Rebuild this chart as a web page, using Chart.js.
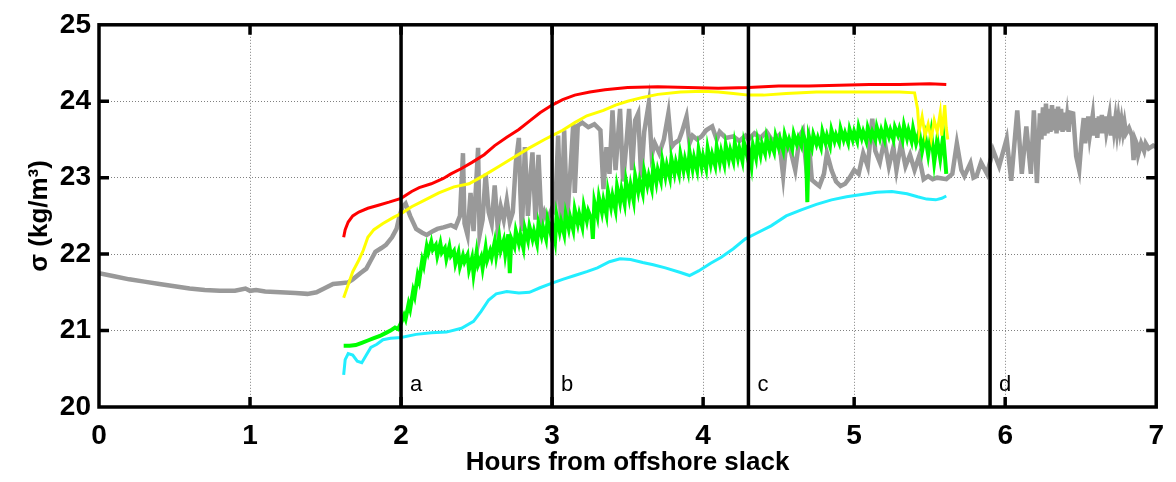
<!DOCTYPE html>
<html>
<head>
<meta charset="utf-8">
<script src="https://cdn.jsdelivr.net/npm/chart.js@4.4.0/dist/chart.umd.min.js"></script>
<style>
  html, body { margin: 0; padding: 0; background: #fff; }
</style>
</head>
<body>
<canvas id="grafica" width="1176" height="482"></canvas>
<script>
// ejes
const xTicks = [0, 1, 2, 3, 4, 5, 6, 7];
const yTicks = [20, 21, 22, 23, 24, 25];
const xTitle = 'Hours from offshore slack';
const yTitle = 'σ (kg/m³)';

// lineas verticales (horas) y sus letras
const markerHours = [2, 3, 4.3, 5.9];
const markerLabels = ['a', 'b', 'c', 'd'];

// series [hora, sigma]
const graySeries = [
  [0.00,21.75],[0.10,21.71],[0.20,21.67],[0.30,21.64],[0.40,21.61],[0.50,21.58],[0.60,21.55],[0.70,21.53],
  [0.80,21.52],[0.90,21.52],[0.97,21.55],[1.00,21.52],[1.04,21.53],[1.10,21.51],[1.20,21.50],[1.30,21.49],
  [1.38,21.48],[1.44,21.50],[1.50,21.56],[1.55,21.61],[1.60,21.62],[1.65,21.63],[1.68,21.67],[1.73,21.75],
  [1.77,21.81],[1.80,21.92],[1.83,22.03],[1.87,22.08],[1.90,22.12],[1.94,22.22],[1.97,22.33],[1.99,22.50],
  [2.01,22.62],[2.03,22.66],[2.06,22.50],[2.10,22.33],[2.14,22.28],[2.17,22.25],[2.21,22.30],[2.24,22.33],
  [2.28,22.35],[2.33,22.38],[2.36,22.35],[2.39,22.50],[2.41,23.32],[2.42,22.40],[2.44,22.25],[2.46,22.80],
  [2.48,22.30],[2.51,23.39],[2.52,22.25],[2.54,22.45],[2.56,23.05],[2.58,22.55],[2.60,22.40],[2.62,22.90],
  [2.64,22.35],[2.66,22.62],[2.68,22.45],[2.70,22.70],[2.72,22.42],[2.74,22.55],[2.76,23.20],[2.78,23.52],
  [2.79,22.80],[2.80,22.30],[2.82,23.40],[2.84,22.50],[2.86,23.10],[2.87,23.33],[2.89,22.45],[2.91,23.30],
  [2.93,22.40],[2.95,22.55],[2.97,22.45],[3.00,22.60],[3.02,22.55],[3.04,23.55],[3.06,22.30],[3.08,23.62],
  [3.10,22.45],[3.12,23.05],[3.14,23.70],[3.15,22.80],[3.17,23.68],[3.20,23.72],[3.24,23.66],[3.28,23.70],
  [3.32,23.62],[3.34,22.85],[3.36,23.40],[3.38,23.05],[3.40,23.88],[3.42,23.10],[3.45,23.90],[3.47,22.95],
  [3.49,23.40],[3.51,23.90],[3.53,23.10],[3.55,23.75],[3.57,23.84],[3.59,23.00],[3.61,23.60],[3.64,23.97],
  [3.66,23.30],[3.68,23.45],[3.71,23.32],[3.74,23.50],[3.77,23.84],[3.79,23.40],[3.81,23.45],[3.84,23.49],
  [3.86,23.60],[3.89,23.80],[3.91,23.45],[3.93,23.55],[3.96,23.50],[3.99,23.54],[4.02,23.62],[4.06,23.67],
  [4.09,23.50],[4.11,23.60],[4.15,23.52],[4.20,23.54],[4.24,23.48],[4.28,23.55],[4.30,23.50],[4.34,23.58],
  [4.38,23.52],[4.42,23.60],[4.46,23.48],[4.50,23.55],[4.53,23.02],[4.55,23.45],[4.58,23.35],[4.61,23.10],
  [4.64,23.55],[4.66,23.62],[4.68,23.20],[4.70,23.45],[4.72,22.97],[4.75,22.92],[4.77,22.89],[4.80,23.05],
  [4.82,23.32],[4.85,23.10],[4.88,22.95],[4.91,22.89],[4.94,22.92],[4.97,23.00],[5.00,23.10],[5.03,23.05],
  [5.06,23.32],[5.09,23.15],[5.12,23.77],[5.14,23.35],[5.17,23.20],[5.20,23.49],[5.23,23.15],[5.26,23.40],
  [5.28,23.10],[5.31,23.45],[5.34,23.15],[5.37,23.30],[5.40,23.10],[5.43,23.28],[5.46,22.98],[5.49,23.02],
  [5.52,22.98],[5.55,23.00],[5.61,22.98],[5.65,23.05],[5.68,23.45],[5.71,23.10],[5.73,23.02],[5.77,23.19],
  [5.79,23.00],[5.81,23.02],[5.84,23.20],[5.88,23.05],[5.92,23.36],[5.96,23.15],[6.01,23.51],[6.04,22.96],
  [6.08,23.88],[6.11,23.05],[6.14,23.67],[6.17,23.05],[6.19,23.88],[6.21,22.93],[6.23,23.84],[6.24,23.50],
  [6.25,23.92],[6.26,23.55],[6.27,23.97],[6.28,23.58],[6.29,23.90],[6.30,23.60],[6.31,23.95],[6.32,23.62],
  [6.33,23.90],[6.34,23.58],[6.35,23.93],[6.36,23.62],[6.37,23.90],[6.38,23.60],[6.39,23.85],[6.40,23.62],
  [6.41,23.80],[6.42,23.60],[6.43,23.85],[6.45,23.84],[6.47,23.28],[6.49,23.10],[6.51,23.60],[6.52,23.78],
  [6.53,23.45],[6.55,23.80],[6.56,23.55],[6.58,23.82],[6.59,23.55],[6.60,23.78],[6.61,23.52],[6.62,23.80],
  [6.63,23.58],[6.64,23.82],[6.65,23.58],[6.66,23.80],[6.67,23.60],[6.69,23.82],[6.70,23.55],[6.71,23.80],
  [6.72,23.62],[6.73,23.78],[6.74,23.60],[6.75,23.78],[6.76,23.62],[6.77,23.75],[6.78,23.60],[6.79,23.72],
  [6.80,23.58],[6.82,23.65],[6.84,23.55],[6.85,23.23],[6.86,23.50],[6.87,23.45],[6.88,23.30],[6.90,23.45],
  [6.92,23.35],[6.93,23.45],[6.95,23.38],[6.98,23.42],[7.00,23.40]
];

const greenSeries = [
  [1.62,20.80],[1.66,20.80],[1.70,20.81],[1.74,20.84],[1.78,20.87],[1.82,20.90],[1.86,20.93],[1.90,20.97],
  [1.93,21.00],[1.96,21.04],[1.98,21.02],[2.00,21.10],[2.02,21.20],[2.03,21.15],[2.05,21.35],[2.06,21.28],
  [2.08,21.52],[2.09,21.45],[2.11,21.72],[2.12,21.65],[2.14,21.92],[2.15,21.85],[2.17,22.10],[2.18,22.02],
  [2.20,22.16],[2.21,22.06],[2.23,22.12],[2.24,21.98],[2.26,22.14],[2.27,22.02],[2.29,22.08],[2.30,21.94],
  [2.32,22.10],[2.33,21.98],[2.35,22.04],[2.36,21.88],[2.38,22.02],[2.39,21.84],[2.41,21.98],[2.42,21.90],
  [2.44,21.99],[2.45,21.80],[2.47,21.95],[2.48,21.74],[2.50,22.02],[2.51,21.86],[2.53,21.96],[2.54,21.82],
  [2.56,22.08],[2.57,21.92],[2.59,22.04],[2.60,21.96],[2.62,22.16],[2.63,21.98],[2.65,22.22],[2.66,22.05],
  [2.68,22.18],[2.69,22.00],[2.71,22.26],[2.72,21.75],[2.73,22.20],[2.75,22.10],[2.76,22.30],[2.78,22.14],
  [2.79,22.25],[2.81,22.08],[2.82,22.33],[2.84,22.18],[2.85,22.36],[2.87,22.20],[2.88,22.30],[2.90,22.14],
  [2.91,22.40],[2.93,22.24],[2.94,22.35],[2.96,22.20],[2.97,22.45],[2.99,22.28],[3.00,22.40],[3.02,22.18],
  [3.03,22.50],[3.05,22.30],[3.06,22.42],[3.08,22.26],[3.09,22.52],[3.11,22.34],[3.12,22.48],[3.14,22.32],
  [3.15,22.58],[3.17,22.40],[3.18,22.52],[3.20,22.36],[3.21,22.62],[3.23,22.44],[3.24,22.56],[3.26,22.46],
  [3.27,22.20],[3.28,22.68],[3.30,22.50],[3.31,22.74],[3.33,22.55],[3.34,22.70],[3.36,22.52],[3.37,22.82],
  [3.39,22.62],[3.40,22.76],[3.42,22.58],[3.43,22.88],[3.45,22.68],[3.46,22.84],[3.48,22.66],[3.49,22.95],
  [3.51,22.74],[3.52,22.90],[3.54,22.70],[3.55,23.02],[3.57,22.82],[3.58,22.96],[3.60,22.80],[3.61,23.08],
  [3.63,22.90],[3.64,23.02],[3.66,22.86],[3.67,23.15],[3.69,22.94],[3.70,23.10],[3.72,22.96],[3.73,23.22],
  [3.75,23.02],[3.76,23.16],[3.78,23.00],[3.79,23.25],[3.81,23.06],[3.82,23.20],[3.84,23.05],[3.85,23.30],
  [3.87,23.10],[3.88,23.24],[3.90,23.08],[3.91,23.34],[3.93,23.12],[3.94,23.26],[3.96,23.10],[3.97,23.36],
  [3.99,23.15],[4.00,23.28],[4.02,23.12],[4.03,23.38],[4.05,23.18],[4.06,23.30],[4.08,23.16],[4.09,23.40],
  [4.11,23.20],[4.12,23.34],[4.14,23.18],[4.15,23.42],[4.17,23.24],[4.18,23.36],[4.20,23.22],[4.21,23.45],
  [4.23,23.26],[4.24,23.38],[4.26,23.22],[4.27,23.46],[4.29,23.30],[4.30,23.40],[4.32,23.16],[4.33,23.42],
  [4.35,23.26],[4.36,23.48],[4.38,23.30],[4.39,23.44],[4.41,23.32],[4.42,23.52],[4.44,23.36],[4.45,23.46],
  [4.47,23.34],[4.48,23.54],[4.50,23.40],[4.51,23.50],[4.53,23.36],[4.54,23.56],[4.56,23.42],[4.57,23.50],
  [4.59,23.38],[4.60,23.57],[4.62,23.44],[4.63,23.52],[4.65,23.42],[4.66,23.58],[4.68,23.46],[4.69,22.68],
  [4.70,23.54],[4.72,23.40],[4.73,23.56],[4.75,23.44],[4.76,23.52],[4.78,23.40],[4.79,23.60],[4.81,23.46],
  [4.82,23.55],[4.84,23.42],[4.85,23.62],[4.87,23.48],[4.88,23.56],[4.90,23.46],[4.91,23.64],[4.93,23.50],
  [4.94,23.58],[4.96,23.46],[4.97,23.63],[4.99,23.50],[5.00,23.60],[5.02,23.48],[5.03,23.66],[5.05,23.52],
  [5.06,23.60],[5.08,23.48],[5.09,23.65],[5.11,23.52],[5.12,23.60],[5.14,23.50],[5.15,23.66],[5.17,23.52],
  [5.18,23.62],[5.20,23.50],[5.21,23.67],[5.23,23.54],[5.24,23.62],[5.26,23.50],[5.27,23.66],[5.29,23.56],
  [5.30,23.64],[5.32,23.50],[5.33,23.68],[5.35,23.52],[5.36,23.62],[5.38,23.48],[5.39,23.64],[5.41,23.45],
  [5.43,23.60],[5.45,23.35],[5.47,23.55],[5.49,23.30],[5.51,23.58],[5.53,23.20],[5.55,23.50],[5.57,23.25],
  [5.59,23.55],[5.61,23.05]
];

const cyanSeries = [
  [1.62,20.42],[1.63,20.62],[1.65,20.70],[1.68,20.68],[1.71,20.60],[1.74,20.58],[1.77,20.68],[1.80,20.78],
  [1.84,20.82],[1.88,20.88],[1.93,20.90],[2.00,20.91],[2.10,20.95],[2.20,20.97],[2.30,20.98],[2.40,21.03],
  [2.48,21.12],[2.53,21.25],[2.58,21.40],[2.63,21.48],[2.70,21.51],[2.78,21.49],[2.85,21.50],[2.92,21.56],
  [3.00,21.62],[3.07,21.67],[3.15,21.72],[3.23,21.77],[3.30,21.82],[3.38,21.90],[3.45,21.94],[3.52,21.93],
  [3.60,21.89],[3.67,21.86],[3.75,21.82],[3.85,21.76],[3.91,21.72],[3.97,21.78],[4.05,21.88],[4.12,21.96],
  [4.20,22.07],[4.28,22.20],[4.35,22.27],[4.45,22.37],[4.55,22.50],[4.65,22.58],[4.75,22.65],[4.85,22.71],
  [4.95,22.75],[5.05,22.78],[5.15,22.81],[5.25,22.82],[5.35,22.79],[5.42,22.75],[5.48,22.72],[5.54,22.71],
  [5.58,22.73],[5.61,22.76]
];

const yellowSeries = [
  [1.62,21.43],[1.65,21.60],[1.68,21.77],[1.72,21.92],[1.75,22.05],[1.78,22.22],[1.82,22.32],[1.88,22.40],
  [1.95,22.48],[2.00,22.53],[2.07,22.62],[2.15,22.70],[2.25,22.80],[2.35,22.88],[2.45,22.92],[2.55,23.03],
  [2.65,23.15],[2.75,23.27],[2.85,23.39],[2.95,23.50],[3.00,23.55],[3.07,23.62],[3.15,23.72],[3.23,23.81],
  [3.34,23.88],[3.42,23.95],[3.50,24.00],[3.60,24.05],[3.70,24.09],[3.85,24.12],[4.00,24.13],[4.10,24.12],
  [4.20,24.10],[4.30,24.08],[4.40,24.08],[4.55,24.10],[4.75,24.12],[4.95,24.12],[5.15,24.12],[5.30,24.12],
  [5.40,24.11],[5.42,23.90],[5.43,23.60],[5.45,23.80],[5.47,23.55],[5.49,23.70],[5.51,23.50],[5.53,23.75],
  [5.55,23.60],[5.57,23.85],[5.58,23.55],[5.60,23.95],[5.61,23.65],[5.62,23.50]
];

const redSeries = [
  [1.62,22.22],[1.63,22.32],[1.65,22.42],[1.68,22.50],[1.72,22.55],[1.78,22.60],[1.85,22.64],[1.92,22.68],
  [2.00,22.73],[2.07,22.82],[2.12,22.87],[2.20,22.92],[2.28,22.99],[2.33,23.05],[2.40,23.12],[2.47,23.20],
  [2.55,23.30],[2.62,23.42],[2.70,23.53],[2.78,23.63],[2.85,23.74],[2.92,23.85],[3.00,23.95],[3.07,24.02],
  [3.15,24.08],[3.25,24.12],[3.35,24.15],[3.50,24.18],[3.70,24.19],[3.90,24.18],[4.10,24.17],[4.30,24.18],
  [4.50,24.20],[4.70,24.20],[4.90,24.21],[5.10,24.22],[5.30,24.22],[5.50,24.23],[5.61,24.22]
];

const fuente = '"Liberation Sans", Arial, sans-serif';

function puntos(serie) {
  return serie.map(p => ({ x: p[0], y: p[1] }));
}

function linea(label, serie, color, ancho, orden) {
  return {
    label: label,
    data: puntos(serie),
    borderColor: color,
    borderWidth: ancho,
    borderJoinStyle: 'miter',
    pointRadius: 0,
    tension: 0,
    fill: false,
    order: orden
  };
}

const datasets = [
  linea('gray', graySeries, '#999999', 4.5, 6),
  linea('green', greenSeries, '#00ff00', 4, 5),
  linea('cyan', cyanSeries, '#22eeff', 3, 4),
  linea('yellow', yellowSeries, '#ffff00', 3, 3),
  linea('red', redSeries, '#ff0000', 3, 2)
];

// lineas verticales negras
for (let i = 0; i < markerHours.length; i++) {
  datasets.push({
    label: markerLabels[i],
    data: [{ x: markerHours[i], y: yTicks[0] }, { x: markerHours[i], y: yTicks[yTicks.length - 1] }],
    borderColor: '#000',
    borderWidth: 3.5,
    pointRadius: 0,
    order: 1
  });
}

// marco + ticks hacia adentro + letras
const marco = {
  id: 'marco',
  afterDatasetsDraw(chart) {
    const ctx = chart.ctx;
    const xs = chart.scales.x, ys = chart.scales.y;
    ctx.save();
    ctx.fillStyle = '#000';
    ctx.font = '22px ' + fuente;
    ctx.textBaseline = 'middle';
    ctx.textAlign = 'left';
    for (let i = 0; i < markerHours.length; i++) {
      ctx.fillText(markerLabels[i], xs.getPixelForValue(markerHours[i]) + 9, ys.getPixelForValue(20.29));
    }
    ctx.restore();
  },
  afterDraw(chart) {
    const ctx = chart.ctx;
    const a = chart.chartArea;
    const xs = chart.scales.x, ys = chart.scales.y;
    const largo = 10;
    ctx.save();
    ctx.strokeStyle = '#000';
    ctx.lineWidth = 3.5;
    ctx.strokeRect(a.left, a.top, a.right - a.left, a.bottom - a.top);
    ctx.beginPath();
    xTicks.slice(1, -1).forEach(v => {
      const px = xs.getPixelForValue(v);
      ctx.moveTo(px, a.bottom); ctx.lineTo(px, a.bottom - largo);
      ctx.moveTo(px, a.top); ctx.lineTo(px, a.top + largo);
    });
    yTicks.slice(1, -1).forEach(v => {
      const py = ys.getPixelForValue(v);
      ctx.moveTo(a.left, py); ctx.lineTo(a.left + largo, py);
      ctx.moveTo(a.right, py); ctx.lineTo(a.right - largo, py);
    });
    ctx.stroke();
    ctx.restore();
  }
};

const ctx = document.getElementById('grafica').getContext('2d');

const myChart = new Chart(ctx, {
  type: 'line',
  data: { datasets: datasets },
  options: {
    responsive: false,
    animation: false,
    layout: { padding: { left: 0, right: 16, top: 20, bottom: 0 } },
    plugins: { legend: { display: false }, tooltip: { enabled: false } },
    scales: {
      x: {
        type: 'linear',
        min: xTicks[0],
        max: xTicks[xTicks.length - 1],
        afterBuildTicks: s => { s.ticks = xTicks.map(v => ({ value: v })); },
        afterFit: s => { s.height = 75; },
        ticks: { color: '#000', padding: 12, font: { family: fuente, size: 28, weight: 'bold' } },
        grid: { color: '#808080', lineWidth: 1, drawTicks: false },
        border: { display: false, dash: [1, 2] },
        title: {
          display: true, text: xTitle, color: '#000',
          font: { family: fuente, size: 26, weight: 'bold' },
          padding: { top: 0, bottom: 4 }
        }
      },
      y: {
        type: 'linear',
        min: yTicks[0],
        max: yTicks[yTicks.length - 1],
        afterBuildTicks: s => { s.ticks = yTicks.map(v => ({ value: v })); },
        afterFit: s => { s.width = 99; },
        ticks: { color: '#000', padding: 8, font: { family: fuente, size: 28, weight: 'bold' } },
        grid: { color: '#808080', lineWidth: 1, drawTicks: false },
        border: { display: false, dash: [1, 2] },
        title: {
          display: true, text: yTitle, color: '#000',
          font: { family: fuente, size: 26, weight: 'bold' },
          padding: { top: 24, bottom: 0 }
        }
      }
    }
  },
  plugins: [marco]
});
</script>
</body>
</html>
